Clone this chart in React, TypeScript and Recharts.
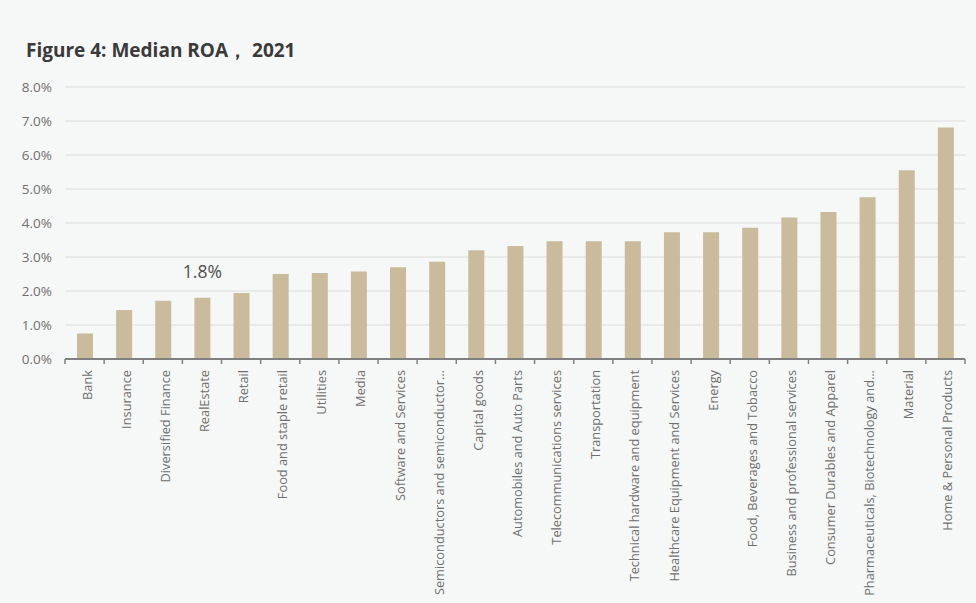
import { BarChart, Bar, XAxis, YAxis, CartesianGrid, LabelList } from 'recharts';

const categories = [
  'Bank',
  'Insurance',
  'Diversified Finance',
  'RealEstate',
  'Retail',
  'Food and staple retail',
  'Utilities',
  'Media',
  'Software and Services',
  'Semiconductors and semiconductor…',
  'Capital goods',
  'Automobiles and Auto Parts',
  'Telecommunications services',
  'Transportation',
  'Technical hardware and equipment',
  'Healthcare Equipment and Services',
  'Energy',
  'Food,  Beverages and Tobacco',
  'Business and professional services',
  'Consumer Durables and Apparel',
  'Pharmaceuticals, Biotechnology and…',
  'Material',
  'Home & Personal Products',
];

// median ROA, in percent
const roa = [
  0.75, 1.44, 1.71, 1.8, 1.94, 2.5, 2.53, 2.57, 2.7, 2.86, 3.2, 3.32, 3.46, 3.46,
  3.46, 3.73, 3.73, 3.86, 4.16, 4.32, 4.76, 5.55, 6.81,
];

const yTicks = [0, 1, 2, 3, 4, 5, 6, 7, 8];

// only RealEstate carries a value label in the source
const labelled = ['RealEstate'];

const data = categories.map((name, i) => ({ name, roa: roa[i] }));

const W = 976;
const H = 603;
const margin = { top: 87, right: 11, left: 0, bottom: 0 };
const yAxisWidth = 65;
const band = (W - margin.left - margin.right - yAxisWidth) / categories.length;

const font = '"Open Sans", "Noto Sans", sans-serif';
const tickColor = '#6f6f6f';

function CategoryTick(props: any) {
  const { x, y, payload, index } = props;
  const left = x - band / 2;
  const right = x + band / 2;
  return (
    <g>
      <line x1={left} y1={y} x2={left} y2={y + 5} stroke="#808080" strokeWidth={1.5} />
      {index === categories.length - 1 && (
        <line x1={right} y1={y} x2={right} y2={y + 5} stroke="#808080" strokeWidth={1.5} />
      )}
      <text
        transform={`translate(${x + 7}, ${y + 11}) rotate(-90)`}
        textAnchor="end"
        fontSize={12.8}
        fill={tickColor}
        fontFamily={font}
      >
        {payload.value}
      </text>
    </g>
  );
}

function ValueLabel(props: any) {
  const { x, y, width, value, index } = props;
  if (!labelled.includes(categories[index])) return null;
  return (
    <text
      x={x + width / 2}
      y={y - 20}
      textAnchor="middle"
      fontSize={17.5}
      fill="#505050"
      fontFamily={font}
    >
      {`${Number(value).toFixed(1)}%`}
    </text>
  );
}

export default function App() {
  return (
    <div
      style={{
        position: 'absolute',
        left: 0,
        top: 0,
        width: W,
        height: H,
        background: '#f6f7f7',
        fontFamily: font,
      }}
    >
      <div
        style={{
          position: 'absolute',
          left: 26,
          top: 37,
          fontSize: 19,
          fontWeight: 700,
          color: '#3a3a3a',
          whiteSpace: 'pre',
        }}
      >
        Figure 4: Median ROA， 2021
      </div>
      <BarChart width={W} height={H} data={data} margin={margin}>
        <CartesianGrid vertical={false} stroke="#dcdcdc" strokeWidth={1} />
        <XAxis
          dataKey="name"
          interval={0}
          height={H - 359 - margin.bottom}
          axisLine={{ stroke: '#808080', strokeWidth: 2 }}
          tickLine={false}
          tickSize={0}
          tickMargin={0}
          tick={<CategoryTick />}
        />
        <YAxis
          width={yAxisWidth}
          domain={[0, 8]}
          ticks={yTicks}
          axisLine={false}
          tickLine={false}
          tickSize={0}
          tickMargin={13}
          tick={{ fill: tickColor, fontSize: 13.5, fontFamily: font }}
          tickFormatter={(v: number) => `${v.toFixed(1)}%`}
        />
        <Bar dataKey="roa" fill="#c9bb9b" barSize={16} isAnimationActive={false}>
          <LabelList dataKey="roa" content={<ValueLabel />} />
        </Bar>
      </BarChart>
    </div>
  );
}
